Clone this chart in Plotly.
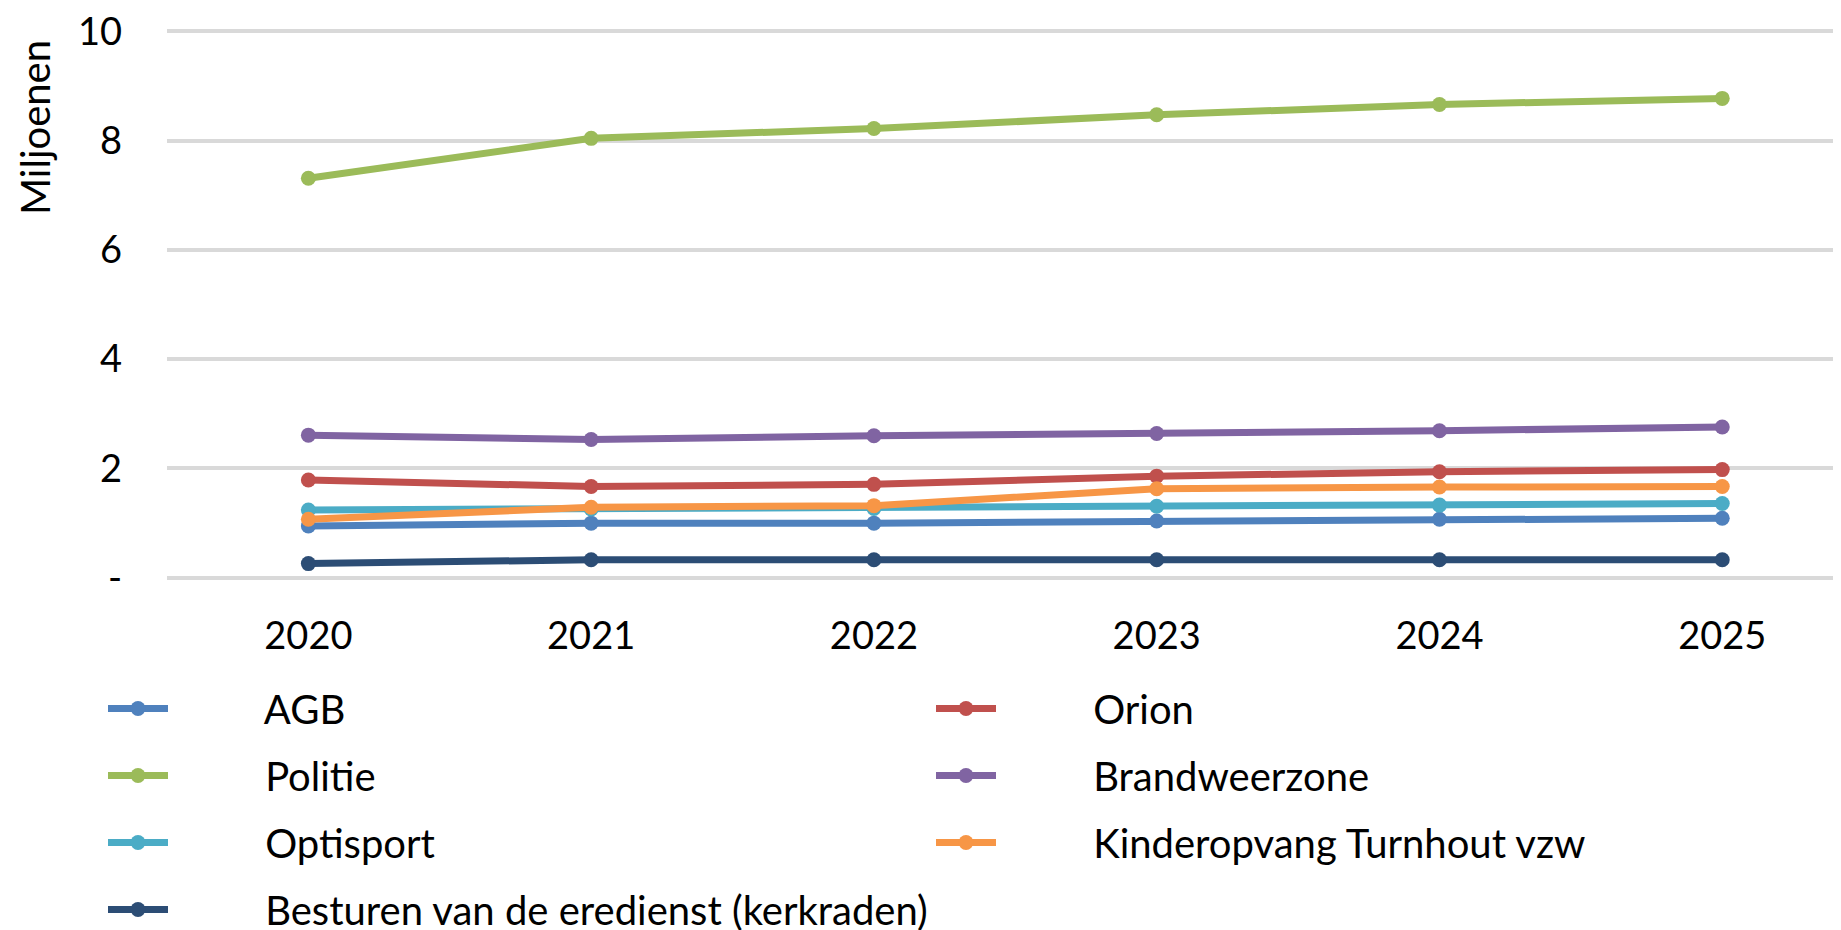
import plotly.graph_objects as go

years = ["2020", "2021", "2022", "2023", "2024", "2025"]

agb = [0.95, 1.00, 1.00, 1.04, 1.07, 1.09]
orion = [1.79, 1.67, 1.71, 1.86, 1.94, 1.98]
politie = [7.31, 8.04, 8.22, 8.47, 8.66, 8.77]
brandweer = [2.61, 2.53, 2.60, 2.64, 2.69, 2.76]
optisport = [1.24, 1.26, 1.27, 1.31, 1.33, 1.36]
kinderopvang = [1.07, 1.29, 1.32, 1.63, 1.66, 1.67]
besturen = [0.26, 0.33, 0.33, 0.33, 0.33, 0.33]

series = [
    ("AGB", agb, "#4F81BD", "legend", "g1"),
    ("Orion", orion, "#C0504D", "legend2", "g2"),
    ("Politie", politie, "#9BBB59", "legend", "g3"),
    ("Brandweerzone", brandweer, "#8064A2", "legend2", "g4"),
    ("Optisport", optisport, "#4BACC6", "legend", "g5"),
    ("Kinderopvang Turnhout vzw", kinderopvang, "#F79646", "legend2", "g6"),
    ("Besturen van de eredienst (kerkraden)", besturen, "#2C4D75", "legend", "g7"),
]

y_ticks = [0, 2, 4, 6, 8, 10]
y_ticktext = ["-", "2", "4", "6", "8", "10"]

FONT = "Lato"
PAD = "\u00a0" * 9

fig = go.Figure()
for name, vals, color, leg, grp in series:
    fig.add_trace(go.Scatter(
        x=years, y=vals, name=PAD + name, mode="lines+markers",
        line=dict(color=color, width=7),
        marker=dict(color=color, size=15),
        legend=leg, legendgroup=grp,
    ))

# the page body has an 8px margin, so the figure is offset by 8px
OFF = 8
W, H = 1841 - OFF, 930 - OFF
ml, mr, mt, mb = 167 - OFF, 0, 21, 350
pw = W - ml - mr
ph = H - mt - mb


def paper_x(page_x):
    return (page_x - OFF - ml) / pw


def paper_y(page_y):
    return (H - mb - (page_y - OFF)) / ph


legend_common = dict(
    orientation="v", xanchor="left", yanchor="top",
    xref="container", yref="container",
    font=dict(family=FONT, size=40, color="#000000"),
    itemwidth=60, tracegroupgap=12, bgcolor="rgba(0,0,0,0)",
    itemclick=False, itemdoubleclick=False,
)

fig.update_layout(
    width=W, height=H,
    margin=dict(l=ml, r=mr, t=mt, b=mb, pad=0, autoexpand=False),
    paper_bgcolor="white", plot_bgcolor="white",
    font=dict(family=FONT, size=38, color="#000000"),
    xaxis=dict(
        type="category", range=[-0.5, 5.42], showgrid=False, zeroline=False,
        showline=False, ticks="", ticklabelstandoff=30, automargin=False,
        tickfont=dict(family=FONT, size=38, color="#000000"),
    ),
    yaxis=dict(
        range=[-0.04, 10.04], tickvals=y_ticks, ticktext=y_ticktext,
        showgrid=True, gridcolor="#D9D9D9", gridwidth=4, zeroline=False,
        showline=False, ticks="", ticklabelstandoff=44, automargin=False,
        ticklabeloverflow="allow",
        tickfont=dict(family=FONT, size=38, color="#000000"),
    ),
    legend=dict(x=(103 - OFF) / W, y=1 - (676 - OFF) / H, **legend_common),
    legend2=dict(x=(931 - OFF) / W, y=1 - (676 - OFF) / H, **legend_common),
    showlegend=True,
    annotations=[dict(
        text="Miljoenen", textangle=-90, xref="paper", yref="paper",
        x=paper_x(35), y=paper_y(128), xanchor="center", yanchor="middle",
        showarrow=False, font=dict(family=FONT, size=40, color="#000000"),
    )],
)

fig.write_html("out.html")
